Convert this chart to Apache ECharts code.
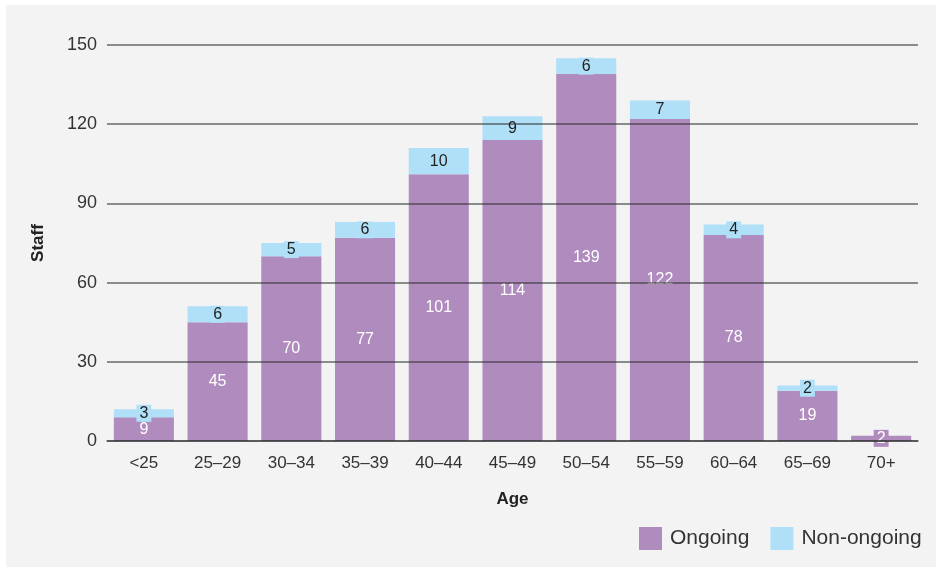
<!DOCTYPE html>
<html>
<head>
<meta charset="utf-8">
<script src="https://cdn.jsdelivr.net/npm/echarts@6/dist/echarts.min.js"></script>
<style>
  html, body { margin: 0; padding: 0; background: #ffffff; }
  #chart { width: 936px; height: 567px; }
</style>
</head>
<body>
<div id="chart"></div>
<script>
// Staff numbers by age group, split by employment type
const ageGroups = ['<25', '25–29', '30–34', '35–39', '40–44', '45–49', '50–54', '55–59', '60–64', '65–69', '70+'];
const ongoing = [9, 45, 70, 77, 101, 114, 139, 122, 78, 19, 2];
const nonOngoing = [3, 6, 5, 6, 10, 9, 6, 7, 4, 2, 0];
const staffTicks = [0, 30, 60, 90, 120, 150];

const FONT = '"Liberation Sans", Arial, Helvetica, sans-serif';
const PURPLE = '#b08bbe';
const BLUE = '#b0e0f8';
const RULE = 'rgba(45,45,45,0.7)';

const chart = echarts.init(document.getElementById('chart'), null, { renderer: 'canvas' });

// zero-height segments get no value box
function withHiddenZeros(values) {
  return values.map(v => v === 0 ? { value: v, label: { show: false } } : v);
}

chart.setOption({
  backgroundColor: '#ffffff',
  animation: false,
  textStyle: { fontFamily: FONT },
  graphic: [{
    type: 'rect',
    left: 6, top: 5,
    shape: { width: 930, height: 562 },
    style: { fill: '#f3f3f3' },
    z: -10
  }],
  grid: { left: 107, right: 18, top: 45, bottom: 126 },
  legend: {
    left: 639, top: 527,
    padding: 0,
    itemWidth: 23, itemHeight: 23,
    itemGap: 21,
    icon: 'rect',
    textStyle: { fontSize: 21, color: '#333', fontFamily: FONT, padding: [0, 0, 0, 3] },
    data: ['Ongoing', 'Non-ongoing']
  },
  xAxis: {
    type: 'category',
    data: ageGroups,
    name: 'Age',
    nameLocation: 'middle',
    nameGap: 50,
    nameTextStyle: { fontSize: 17, fontWeight: 'bold', color: '#222', fontFamily: FONT },
    axisTick: { show: false },
    axisLine: { lineStyle: { color: RULE, width: 1.5 } },
    axisLabel: { fontSize: 17, color: '#333', margin: 14, fontFamily: FONT },
    z: 5
  },
  yAxis: {
    type: 'value',
    min: 0, max: 150, interval: 30,
    name: 'Staff',
    nameLocation: 'middle',
    nameGap: 60,
    nameTextStyle: { fontSize: 17, fontWeight: 'bold', color: '#222', fontFamily: FONT },
    axisLine: { show: false },
    axisTick: { show: false },
    axisLabel: {
      fontSize: 18, color: '#333', margin: 10, fontFamily: FONT,
      formatter: v => staffTicks.includes(v) ? String(v) : ''
    },
    splitLine: { lineStyle: { color: RULE, width: 1.5 } },
    z: 5
  },
  series: [
    {
      name: 'Ongoing',
      type: 'bar',
      stack: 'staff',
      barCategoryGap: '18.5%',
      itemStyle: { color: PURPLE },
      label: {
        show: true, position: 'inside',
        color: '#ffffff', fontSize: 16, fontFamily: FONT,
        backgroundColor: PURPLE, padding: [1, 3, 0, 3]
      },
      data: withHiddenZeros(ongoing)
    },
    {
      name: 'Non-ongoing',
      type: 'bar',
      stack: 'staff',
      itemStyle: { color: BLUE },
      label: {
        show: true, position: 'inside',
        color: '#222', fontSize: 16, fontFamily: FONT,
        backgroundColor: BLUE, padding: [1, 3, 0, 3]
      },
      data: withHiddenZeros(nonOngoing)
    }
  ]
});
</script>
</body>
</html>
